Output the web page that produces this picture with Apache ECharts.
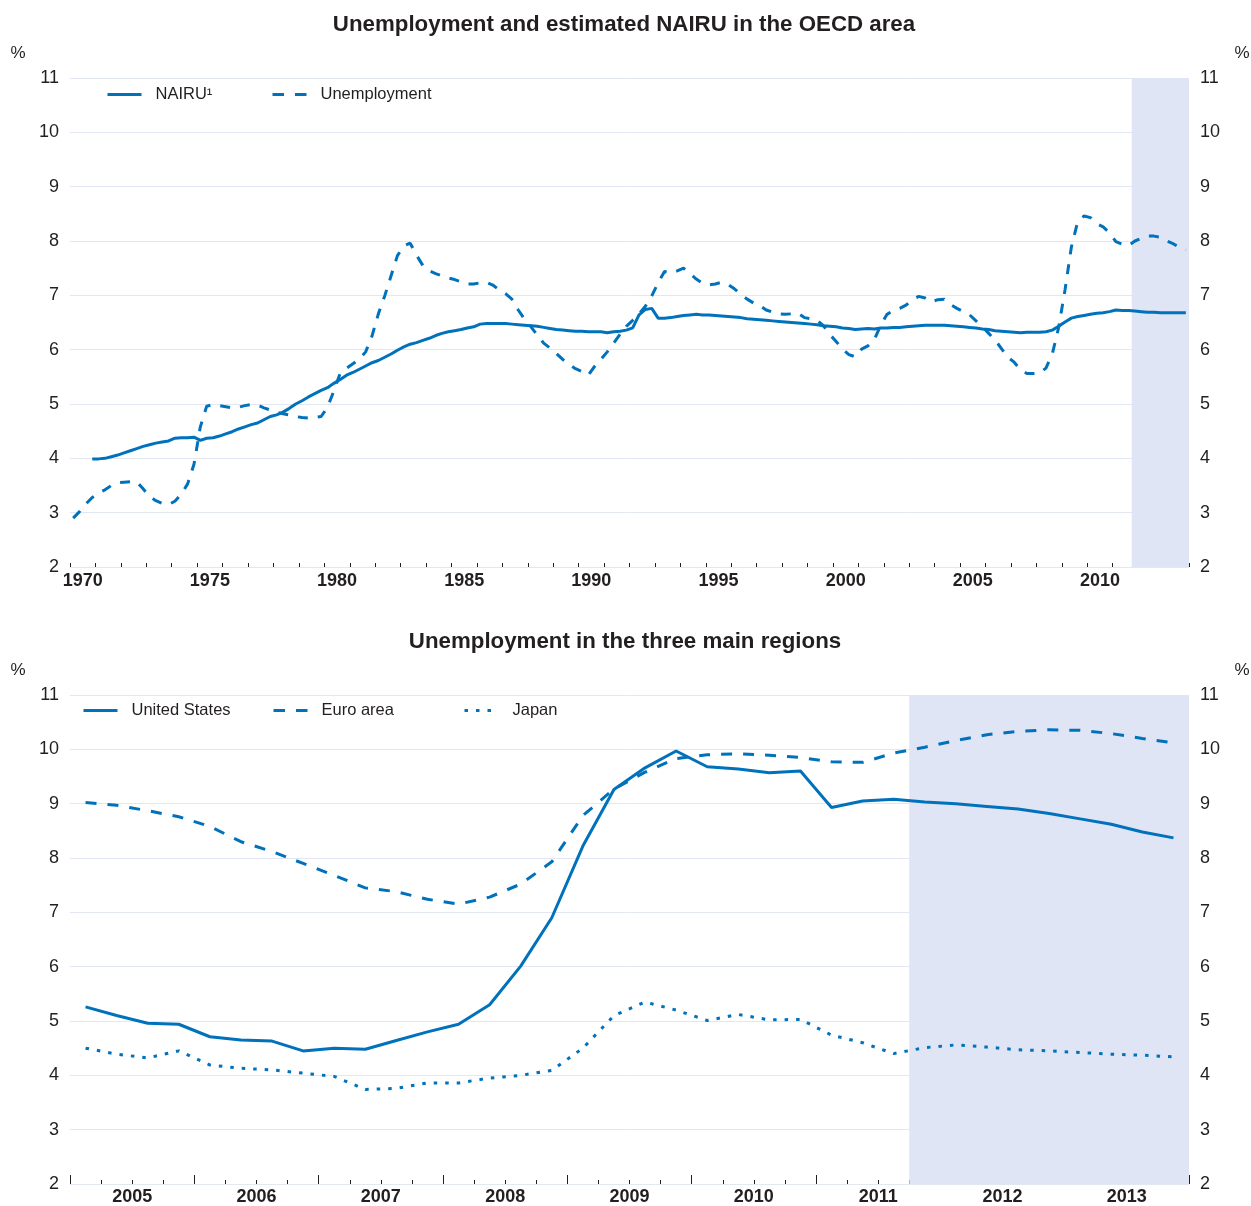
<!DOCTYPE html>
<html><head><meta charset="utf-8">
<script src="https://cdn.jsdelivr.net/npm/echarts@6/dist/echarts.min.js"></script>
<style>html,body{margin:0;padding:0;background:#fff}#c{width:1251px;height:1206px}</style>
</head><body><div id="c"></div>
<script>
// ---------- Top panel: OECD area (quarterly, %) ----------
const oecdYears = [1970,1971,1972,1973,1974,1975,1976,1977,1978,1979,1980,1981,1982,1983,1984,1985,1986,1987,1988,1989,1990,1991,1992,1993,1994,1995,1996,1997,1998,1999,2000,2001,2002,2003,2004,2005,2006,2007,2008,2009,2010,2011,2012,2013];
const oecdLabelYears = [1970,1975,1980,1985,1990,1995,2000,2005,2010];
const unemploymentStart = 1970; // first value = 1970 Q1
const unemployment = [
  2.90,3.02,3.16,3.28, 3.36,3.42,3.50,3.55, 3.56,3.57,3.57,3.44, 3.30,3.22,3.17,3.15,
  3.21,3.34,3.53,3.89, 4.58,4.96,4.99,4.97, 4.95,4.93,4.94,4.97, 4.99,4.98,4.93,4.89,
  4.85,4.82,4.80,4.77, 4.75,4.74,4.75,4.77, 4.94,5.24,5.57,5.66, 5.74,5.82,5.96,6.25,
  6.66,6.99,7.36,7.73, 7.91,7.96,7.74,7.55, 7.45,7.40,7.36,7.32, 7.29,7.25,7.21,7.21,
  7.23,7.24,7.19,7.10, 7.03,6.93,6.73,6.56, 6.42,6.27,6.12,6.03, 5.93,5.82,5.73,5.65,
  5.60,5.53,5.69,5.82, 5.96,6.12,6.28,6.43, 6.54,6.66,6.80,6.99, 7.23,7.44,7.41,7.45,
  7.50,7.40,7.30,7.22, 7.19,7.21,7.24,7.20, 7.12,7.02,6.93,6.86, 6.81,6.73,6.69,6.66,
  6.65,6.66,6.67,6.59, 6.57,6.54,6.44,6.28, 6.15,6.01,5.91,5.87, 6.01,6.07,6.18,6.45,
  6.65,6.72,6.76,6.82, 6.92,6.98,6.95,6.88, 6.92,6.93,6.83,6.76, 6.70,6.64,6.53,6.42,
  6.30,6.18,6.02,5.86, 5.77,5.63,5.56,5.56, 5.57,5.66,5.92,6.41, 7.10,7.89,8.36,8.46,
  8.43,8.32,8.26,8.15, 7.99,7.94,7.92,8.00, 8.05,8.09,8.09,8.07, 8.00,7.95,7.88,7.83
];
const nairuStart = 1970.75; // first value = 1970 Q4
const nairu = [
  3.99,
  3.99,4.00,4.03,4.06, 4.10,4.14,4.18,4.22, 4.25,4.28,4.30,4.32, 4.37,4.38,4.38,4.39,
  4.33,4.37,4.38,4.41, 4.45,4.49,4.54,4.58, 4.62,4.65,4.71,4.77, 4.80,4.85,4.92,5.00,
  5.06,5.13,5.19,5.25, 5.30,5.38,5.45,5.53, 5.58,5.64,5.70,5.76, 5.80,5.86,5.92,5.99,
  6.05,6.10,6.13,6.17, 6.21,6.26,6.30,6.33, 6.35,6.37,6.40,6.42, 6.47,6.48,6.48,6.48,
  6.48,6.47,6.46,6.45, 6.44,6.43,6.41,6.39, 6.37,6.36,6.35,6.34, 6.34,6.33,6.33,6.33,
  6.31,6.33,6.34,6.36, 6.40,6.64,6.74,6.76, 6.58,6.58,6.59,6.61, 6.63,6.64,6.65,6.64,
  6.64,6.63,6.62,6.61, 6.60,6.59,6.57,6.56, 6.55,6.54,6.53,6.52, 6.51,6.50,6.49,6.48,
  6.47,6.46,6.44,6.43, 6.42,6.40,6.39,6.37, 6.38,6.39,6.38,6.40, 6.40,6.41,6.41,6.42,
  6.43,6.44,6.45,6.45, 6.45,6.45,6.44,6.43, 6.42,6.41,6.40,6.38, 6.37,6.35,6.34,6.33,
  6.32,6.31,6.32,6.32, 6.32,6.33,6.36,6.43, 6.51,6.58,6.61,6.63, 6.65,6.67,6.68,6.70,
  6.73,6.72,6.72,6.71, 6.70,6.69,6.69,6.68, 6.68,6.68,6.68,6.68
];

// ---------- Bottom panel: three main regions (quarterly, %) ----------
const regionYears = [2005,2006,2007,2008,2009,2010,2011,2012,2013];
const regionStart = 2005; // first value = 2005 Q1
const unitedStates = [
  5.26,5.10,4.96,4.94, 4.71,4.65,4.63,4.45, 4.50,4.48,4.64,4.80, 4.94,5.30,6.01,6.90,
  8.22,9.26,9.66,9.97, 9.68,9.64,9.57,9.60, 8.93,9.05,9.08,9.03, 9.00,8.95,8.90,8.82,
  8.72,8.62,8.48,8.37
];
const euroArea = [
  9.02,8.97,8.87,8.76, 8.58,8.30,8.12,7.90, 7.68,7.45,7.38,7.24, 7.15,7.28,7.52,7.93,
  8.78,9.27,9.58,9.83, 9.90,9.92,9.89,9.85, 9.77,9.76,9.93,10.04, 10.16,10.27,10.33,10.36,
  10.35,10.29,10.20,10.12
];
const japan = [
  4.50,4.39,4.32,4.45, 4.19,4.13,4.10,4.04, 3.98,3.74,3.76,3.86, 3.86,3.95,4.00,4.09,
  4.50,5.10,5.35,5.20, 5.01,5.12,5.02,5.03, 4.74,4.60,4.40,4.51, 4.56,4.52,4.47,4.45,
  4.42,4.39,4.37,4.34
];
const projectionStart = 2011.75; // projections from 2011 Q4
const yMin = 2, yMax = 11, yStep = 1;

// ---------- styling ----------
const FONT = "'Liberation Sans', Arial, Helvetica, sans-serif";
const TEXT = '#231f20';
const BLUE = '#0071bb';
const GRIDC = '#e2e7f3';
const SHADE = '#dfe5f5';

function quarterly(values, start) {
  return values.map((v, i) => [start + (i + 0.5) / 4, v]);
}
function yAx(grid, pos) {
  return {
    type: 'value', gridIndex: grid, position: pos, min: yMin, max: yMax, interval: yStep,
    axisLine: {show: false}, axisTick: {show: false},
    axisLabel: {color: TEXT, fontSize: 18, fontFamily: FONT, margin: 11},
    splitLine: {show: pos === 'left', lineStyle: {color: GRIDC, width: 1}}
  };
}
function line(name, data, xi, yi, dash) {
  return {
    name, type: 'line', xAxisIndex: xi, yAxisIndex: yi, data, symbol: 'none', z: 3,
    silent: true, animation: false,
    lineStyle: {color: BLUE, width: 3, type: dash || 'solid', cap: 'butt'},
    itemStyle: {color: BLUE}
  };
}
function shade(xi, yi, endYear) {
  return {
    name: 'shade' + xi, type: 'line', xAxisIndex: xi, yAxisIndex: yi, data: [], z: 1, silent: true,
    markArea: {silent: true, itemStyle: {color: SHADE}, label: {show: false},
      data: [[{xAxis: projectionStart}, {xAxis: endYear}]]}
  };
}
function leg(name, left, top, dash) {
  return {
    data: [name], left, top, padding: 0, itemWidth: 34, itemHeight: 18, selectedMode: false,
    textStyle: {color: TEXT, fontSize: 16.5, fontFamily: FONT, padding: [0, 0, 0, 9]},
    lineStyle: {color: BLUE, width: 3, type: dash || 'solid'},
    itemStyle: {opacity: 0}
  };
}
function txt(x, y, text, font, align) {
  return {type: 'text', x, y, silent: true,
    style: {text, font, fill: TEXT, align: align || 'center', verticalAlign: 'middle'}};
}

const topEnd = oecdYears[oecdYears.length - 1] + 1;
const botEnd = regionYears[regionYears.length - 1] + 1;

const option = {
  animation: false,
  backgroundColor: '#fff',
  grid: [
    {left: 70, right: 62, top: 78, height: 489},
    {left: 70, right: 62, top: 695, height: 489}
  ],
  xAxis: [
    {type: 'value', gridIndex: 0, min: oecdYears[0], max: topEnd, show: false, position: 'bottom'},
    {type: 'category', gridIndex: 0, position: 'bottom', data: oecdYears.map(String), boundaryGap: true,
      axisLine: {show: false},
      axisTick: {show: true, inside: true, length: 4, interval: 0, lineStyle: {color: TEXT, width: 1}},
      axisLabel: {interval: (i, v) => oecdLabelYears.includes(+v), color: TEXT, fontSize: 18,
        fontWeight: 'bold', fontFamily: FONT, margin: 5},
      splitLine: {show: false}},
    {type: 'value', gridIndex: 1, min: regionYears[0], max: botEnd, interval: 0.25, position: 'bottom',
      axisLine: {show: false},
      axisTick: {show: true, inside: true, length: 4, lineStyle: {color: TEXT, width: 1}},
      axisLabel: {show: false}, splitLine: {show: false}},
    {type: 'category', gridIndex: 1, position: 'bottom', data: regionYears.map(String), boundaryGap: true,
      axisLine: {show: false},
      axisTick: {show: true, inside: true, length: 9, interval: 0, lineStyle: {color: TEXT, width: 1}},
      axisLabel: {interval: 0, color: TEXT, fontSize: 18, fontWeight: 'bold', fontFamily: FONT, margin: 4},
      splitLine: {show: false}}
  ],
  yAxis: [yAx(0, 'left'), yAx(0, 'right'), yAx(1, 'left'), yAx(1, 'right')],
  legend: [
    leg('NAIRU¹', 106, 86),
    leg('Unemployment', 271, 86, [11.5, 11]),
    leg('United States', 82, 702),
    leg('Euro area', 272, 702, [11.5, 11]),
    leg('Japan', 463, 702, [3.5, 8])
  ],
  graphic: [
    txt(624, 25, 'Unemployment and estimated NAIRU in the OECD area', 'bold 22.3px ' + FONT),
    txt(625, 642, 'Unemployment in the three main regions', 'bold 22.3px ' + FONT),
    txt(18, 53, '%', '17px ' + FONT),
    txt(1242, 53, '%', '17px ' + FONT),
    txt(18, 670, '%', '17px ' + FONT),
    txt(1242, 670, '%', '17px ' + FONT)
  ],
  series: [
    shade(0, 0, topEnd),
    line('NAIRU¹', quarterly(nairu, nairuStart), 0, 0),
    line('Unemployment', quarterly(unemployment, unemploymentStart), 0, 0, [10, 10]),
    shade(2, 2, botEnd),
    line('United States', quarterly(unitedStates, regionStart), 2, 2),
    line('Euro area', quarterly(euroArea, regionStart), 2, 2, [11, 11]),
    line('Japan', quarterly(japan, regionStart), 2, 2, [3.5, 8])
  ]
};
const chart = echarts.init(document.getElementById('c'), null, {renderer: 'canvas'});
chart.setOption(option);
</script></body></html>
